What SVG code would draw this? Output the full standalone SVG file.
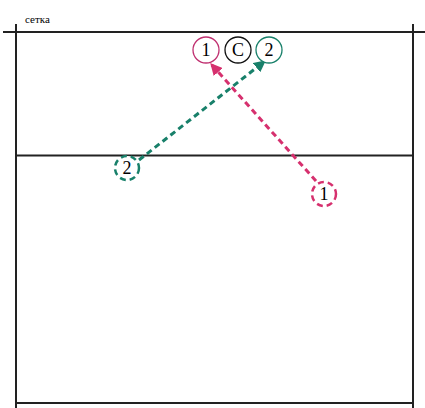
<svg xmlns="http://www.w3.org/2000/svg" width="425" height="408" viewBox="0 0 425 408">
<style>
.ln{stroke:#222;stroke-width:2;fill:none}
.t{font-family:"Liberation Serif",serif;font-size:18px;text-anchor:middle}
.pk{stroke:#d6306e}
.tl{stroke:#18806a}
</style>
<defs>
<marker id="ap" viewBox="0 0 10 10" refX="9" refY="5" markerWidth="4" markerHeight="4" orient="auto"><path d="M0,0 L10,5 L0,10 z" fill="#d6306e"/></marker>
<marker id="at" viewBox="0 0 10 10" refX="9" refY="5" markerWidth="4" markerHeight="4" orient="auto"><path d="M0,0 L10,5 L0,10 z" fill="#18806a"/></marker>
</defs>
<rect width="425" height="408" fill="#fff"/>
<g id="court">
<line class="ln" x1="3" y1="32" x2="425" y2="32"/>
<line class="ln" x1="16" y1="24" x2="16" y2="408"/>
<line class="ln" x1="413" y1="24" x2="413" y2="408"/>
<line class="ln" x1="16" y1="155.5" x2="413" y2="155.5"/>
<line class="ln" x1="16" y1="403" x2="413" y2="403"/>
<text x="25" y="23" font-family="Liberation Serif,serif" font-size="11">сетка</text>
</g>
<g id="connectors" fill="none" stroke-width="3" stroke-dasharray="6,4">
<line class="pk" x1="316" y1="181" x2="211" y2="64" marker-end="url(#ap)"/>
<line class="tl" x1="139" y1="160" x2="265" y2="61" marker-end="url(#at)"/>
</g>
<g id="n1top"><circle cx="206" cy="50" r="13" fill="#fff" stroke="#c03070" stroke-width="1.3"/><text class="t" x="206" y="56">1</text></g>
<g id="nC"><circle cx="238" cy="50" r="13" fill="#fff" stroke="#111" stroke-width="1.3"/><text class="t" x="238" y="56">C</text></g>
<g id="n2top"><circle cx="269" cy="50" r="13" fill="#fff" stroke="#18806a" stroke-width="1.3"/><text class="t" x="269" y="56">2</text></g>
<g id="n2"><circle cx="127" cy="168" r="12" fill="#fff" stroke="#18806a" stroke-width="2.5" stroke-dasharray="6,4"/><text class="t" x="127" y="174">2</text></g>
<g id="n1"><circle cx="324" cy="194" r="12" fill="#fff" stroke="#d6306e" stroke-width="2.5" stroke-dasharray="6,4"/><text class="t" x="324" y="200">1</text></g>
</svg>
